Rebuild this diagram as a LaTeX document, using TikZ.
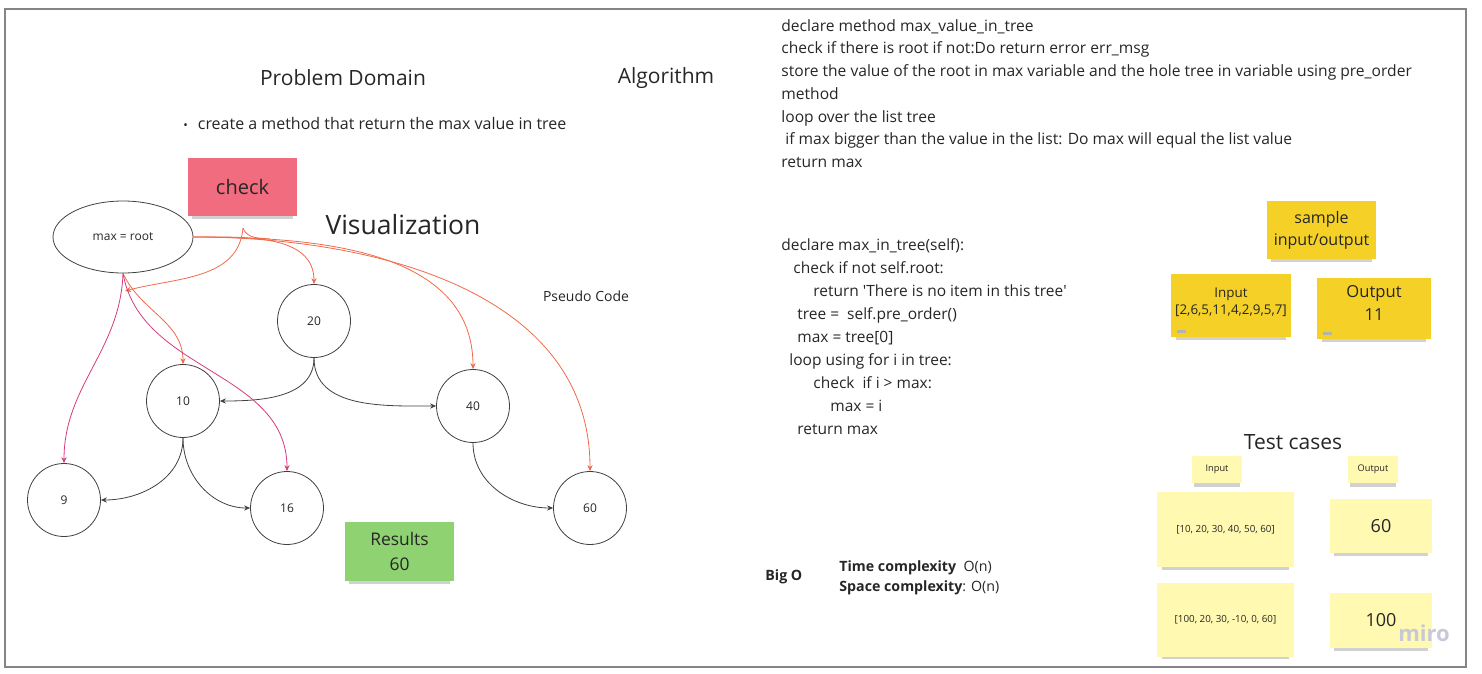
\documentclass[tikz,border=0pt]{standalone}
\usepackage{fontspec}
\setmainfont{Open Sans}
\usepackage{xcolor}
\usepackage{tikz}
\usetikzlibrary{shapes,arrows.meta,positioning,calc,shadows}
\definecolor{stickypink}{HTML}{F16C7F}
\definecolor{stickygreen}{HTML}{8FD271}
\definecolor{stickyyellow}{HTML}{F5D128}
\definecolor{stickylight}{HTML}{FFF9B1}
\definecolor{edgeorange}{HTML}{F0694A}
\definecolor{edgepink}{HTML}{D63A7E}
\definecolor{framegray}{HTML}{858585}
\definecolor{mirogray}{HTML}{C7C8D9}

\begin{document}
\begin{tikzpicture}[x=0.5pt,y=-0.5pt,text=black!85,
  sticky/.style={rectangle, inner sep=0pt, align=center,
    drop shadow={shadow xshift=0pt, shadow yshift=-3pt, shadow scale=0.92, opacity=0.18, fill=black}},
  treenode/.style={draw=black!75, circle, minimum size=36.5pt, inner sep=0pt, font=\fontsize{6}{7}\selectfont},
  treeedge/.style={draw=black!75, line width=0.4pt, -{Stealth[length=3pt,width=2.6pt]}},
  orangeedge/.style={draw=edgeorange, line width=0.4pt, -{Stealth[length=3pt,width=2.6pt]}},
  pinkedge/.style={draw=edgepink, line width=0.4pt, -{Stealth[length=3pt,width=2.6pt]}}]
\useasboundingbox (0,0) rectangle (1482,674);
\draw[framegray, line width=0.75pt] (5,9) rectangle (1466,667);

% Problem Domain
\node[font=\fontsize{10.5}{12}\selectfont] (problem-title) at (343,78) {Problem Domain};
\node[font=\fontsize{10.5}{12}\selectfont] (algo-title) at (666,78) {Algorithm};
\node[anchor=west, inner sep=0pt, font=\fontsize{8}{10}\selectfont] (problem-text) at (183,124) {{\fontsize{6}{7}\selectfont •}\hspace{5pt}create a method that return the max value in tree};

% Visualization
\node[sticky, fill=stickypink, minimum width=54.5pt, minimum height=29pt, font=\fontsize{10}{12}\selectfont] (check-note) at (242.5,187) {check};
\node[font=\fontsize{13.25}{15}\selectfont] (vis-title) at (403,225) {Visualization};
\node[font=\fontsize{7}{9}\selectfont] (pseudo-title) at (586,296) {Pseudo Code};

\node[draw=black!75, ellipse, minimum width=70pt, minimum height=36pt, inner sep=0pt, font=\fontsize{6}{7}\selectfont] (max-root) at (123,237) {max = root};
\node[treenode] (node-20) at (314,321) {20};
\node[treenode] (node-10) at (183,401) {10};
\node[treenode] (node-40) at (473,406) {40};
\node[treenode] (node-9) at (64,500) {9};
\node[treenode] (node-16) at (287,508) {16};
\node[treenode] (node-60) at (590,508) {60};

\draw[treeedge] (node-20.south) to[out=-90,in=0] (node-10.east);
\draw[treeedge] (node-20.south) to[out=-90,in=180] (node-40.west);
\draw[treeedge] (node-10.south) to[out=-90,in=0] (node-9.east);
\draw[treeedge] (node-10.south) to[out=-90,in=180] (node-16.west);
\draw[treeedge] (node-40.south) to[out=-90,in=180] (node-60.west);

\coordinate (check-tail) at (243,228);
\coordinate (check-join) at (270,239);
\coordinate (root-stem) at (125,291);
\draw[orangeedge] (max-root.east) to[out=0,in=90] (node-20.north);
\draw[orangeedge] (max-root.east) to[out=0,in=90] (node-40.north);
\draw[orangeedge] (max-root.east) to[out=0,in=90] (node-60.north);
\draw[orangeedge] (check-tail) to[out=-95,in=15] (root-stem);
\draw[edgeorange, line width=0.4pt] (check-tail) to[out=-70,in=175] (check-join);
\draw[orangeedge] (max-root.south) to[out=-65,in=90] (node-10.north);
\draw[pinkedge] (max-root.south) to[out=-92,in=90] (node-9.north);
\draw[pinkedge] (max-root.south) to[out=-80,in=90] (node-16.north);

\node[sticky, fill=stickygreen, minimum width=54.5pt, minimum height=29.5pt, font=\fontsize{8.7}{12.5}\selectfont] (results-note) at (399.5,551.5) {Results\\60};

% Algorithm
\node[anchor=north west, align=left, inner sep=0pt, font=\fontsize{7.8}{11.35}\selectfont] (algo-text) at (781,19) {
declare method max\_value\_in\_tree\\
check if there is root if not:Do return error err\_msg\\
store the value of the root in max variable and the hole tree in variable using pre\_order\\
method\\
loop over the list tree\\
\hspace{2pt}if max bigger than the value in the list: Do max will equal the list value\\
return max};

% Pseudo code
\node[anchor=north west, align=left, inner sep=0pt, font=\fontsize{7.75}{11.5}\selectfont] (pseudo-text) at (781,238) {
declare max\_in\_tree(self):\\
\hspace{6pt}check if not self.root:\\
\hspace{16pt}return \textquotesingle There is no item in this tree\textquotesingle\\
\hspace{8pt}tree =\ \ self.pre\_order()\\
\hspace{8pt}max = tree[0]\\
\hspace{4pt}loop using for i in tree:\\
\hspace{16pt}check\ \ if i > max:\\
\hspace{24.5pt}max = i\\
\hspace{8pt}return max};

% Big O
\node[anchor=west, inner sep=0pt, font=\fontsize{7.1}{9}\selectfont\bfseries] (bigo-label) at (765,577) {Big O};
\node[anchor=north west, align=left, inner sep=0pt, font=\fontsize{7.1}{10}\selectfont] (complexity-text) at (839,560) {\textbf{Time complexity}\ \ O(n)\\\textbf{Space complexity}: O(n)};

% Sample input/output
\node[sticky, fill=stickyyellow, minimum width=54.5pt, minimum height=29pt, font=\fontsize{8}{11}\selectfont] (sample-note) at (1321.5,230) {sample\\input/output};
\node[sticky, fill=stickyyellow, minimum width=60pt, minimum height=31.5pt, font=\fontsize{6.7}{8.5}\selectfont] (input-note) at (1231,305.5) {Input\\{[2,6,5,11,4,2,9,5,7]}\\[-4pt]\mbox{}};
\node[sticky, fill=stickyyellow, minimum width=57pt, minimum height=30.5pt, font=\fontsize{8.3}{11.5}\selectfont] (output-note) at (1374,308.5) {Output\\11\\[-6pt]\mbox{}};
\fill[black!30] (1177,329.5) rectangle (1186,332.5);
\fill[black!30] (1323,331.5) rectangle (1332,334.5);

% Test cases
\node[font=\fontsize{10.5}{12}\selectfont] (test-title) at (1293,442) {Test cases};
\node[sticky, fill=stickylight, minimum width=25pt, minimum height=13.5pt, font=\fontsize{4.6}{6}\selectfont] (test-in-label) at (1217,469.5) {Input};
\node[sticky, fill=stickylight, minimum width=25pt, minimum height=13.5pt, font=\fontsize{4.6}{6}\selectfont] (test-out-label) at (1373,469.5) {Output};
\node[sticky, fill=stickylight, minimum width=68.5pt, minimum height=37.5pt, font=\fontsize{4.9}{6}\selectfont] (test-in-1) at (1225.5,529.5) {[10, 20, 30, 40, 50, 60]};
\node[sticky, fill=stickylight, minimum width=68.5pt, minimum height=37pt, font=\fontsize{4.9}{6}\selectfont, below=7.5pt of test-in-1] (test-in-2) {[100, 20, 30, -10, 0, 60]};
\node[sticky, fill=stickylight, minimum width=51pt, minimum height=27pt, font=\fontsize{9}{11}\selectfont] (test-out-1) at (1381,526) {60};
\node[sticky, fill=stickylight, minimum width=51pt, minimum height=27.5pt, font=\fontsize{9}{11}\selectfont, below=19.5pt of test-out-1] (test-out-2) {100};

\node[font=\fontsize{11}{12}\selectfont\bfseries, text=mirogray] (miro-mark) at (1424,633) {miro};
\end{tikzpicture}
\end{document}
